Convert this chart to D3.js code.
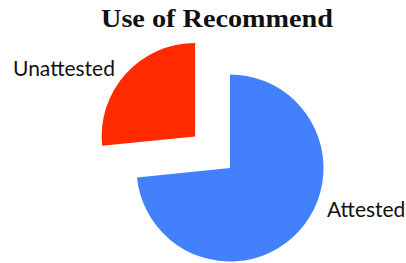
<!DOCTYPE html>
<html><head><meta charset="utf-8">
<script src="https://cdn.jsdelivr.net/npm/d3@7"></script>
<style>body{margin:0;background:#fff}svg{display:block}</style>
</head><body>
<script>
const categories = ["Attested", "Unattested"];
const values = [73.4, 26.6];
const colors = ["#4281fb", "#ff2a00"];
const title = "Use of Recommend";

const W = 406, H = 263;
const svg = d3.select("body").append("svg").attr("width", W).attr("height", H);

svg.append("text").attr("x", 217).attr("y", 27).attr("text-anchor", "middle")
  .attr("font-family", "Liberation Serif, serif").attr("font-weight", "bold")
  .attr("font-size", 25).attr("textLength", 232).attr("lengthAdjust", "spacingAndGlyphs")
  .attr("fill", "#111").text(title);

const r = 93.5;
const cx = 230, cy = 168;
const explode = [0, 47];
const pie = d3.pie().sort(null).value(d => d)(values);
const arc = d3.arc().innerRadius(0).outerRadius(r);
const g = svg.append("g").attr("transform", `translate(${cx},${cy})`);
g.selectAll("path").data(pie).join("path")
  .attr("d", arc)
  .attr("fill", (d, i) => colors[i])
  .attr("transform", (d, i) => {
    const a = (d.startAngle + d.endAngle) / 2;
    return `translate(${explode[i] * Math.sin(a)},${-explode[i] * Math.cos(a)})`;
  });

const labels = [{t: categories[0], x: 327, y: 217}, {t: categories[1], x: 13, y: 76}];
svg.selectAll("text.lbl").data(labels).join("text").attr("class", "lbl")
  .attr("x", d => d.x).attr("y", d => d.y)
  .attr("font-family", "Lato, sans-serif").attr("font-size", 21).attr("fill", "#111")
  .text(d => d.t);
</script>
</body></html>
